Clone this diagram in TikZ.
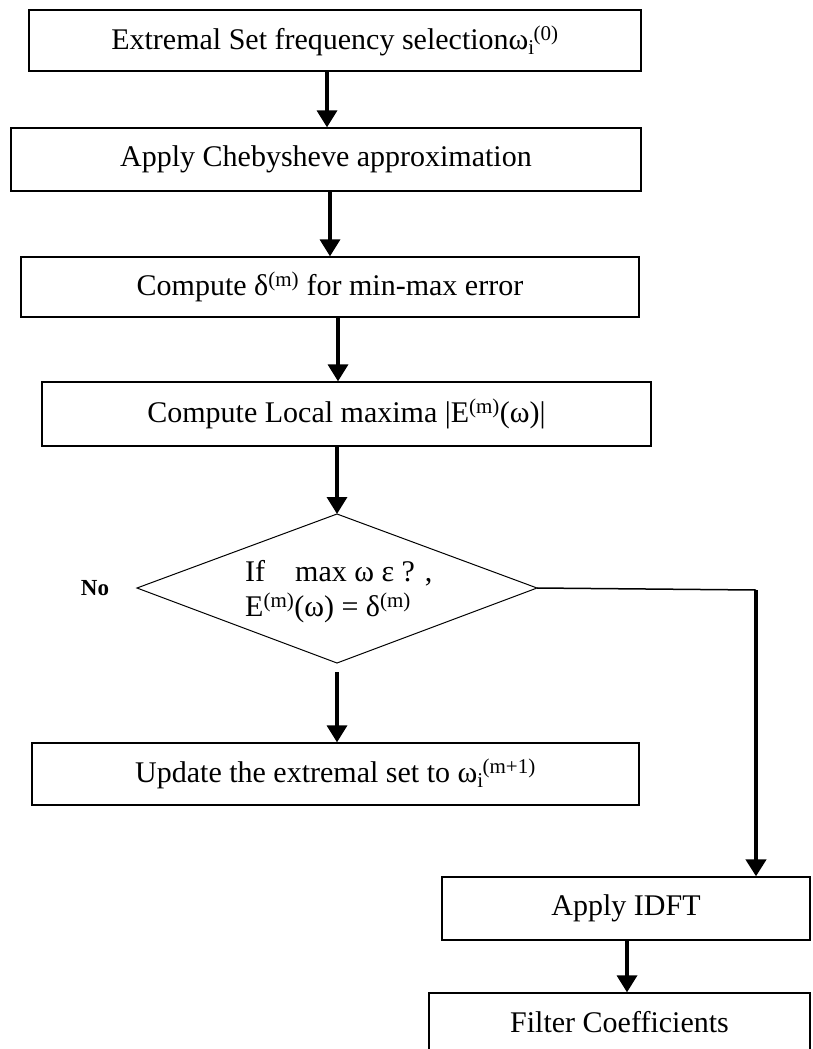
\documentclass[tikz,border=0pt]{standalone}
\usepackage{fontspec}
\setmainfont{Liberation Serif}
\usetikzlibrary{arrows.meta}
\newcommand\boxfont{\fontsize{30}{35}\selectfont}
\newcommand\omsub[2]{ω\textsubscript{#1}\kern-1pt\textsuperscript{#2}}
\begin{document}
\begin{tikzpicture}[x=1pt,y=-1pt,
  box/.style={draw,line width=1.3pt,inner sep=0pt,font=\boxfont},
  arr/.style={line width=3.5pt,-{Triangle[width=20pt,length=17pt]}},
  thinline/.style={line width=1.5pt},
  decision/.style={line width=1pt,line join=miter}]
\useasboundingbox (0,0) rectangle (812,1049);
\clip (0,0) rectangle (812,1049);
% process boxes
\node[box,minimum width=612pt,minimum height=61pt] (b1) at (335,40.5)
  {Extremal Set frequency selection\omsub{i}{(0)}};
\node[box,minimum width=630pt,minimum height=63pt] (b2) at (326,159.5)
  {Apply Chebysheve approximation};
\node[box,minimum width=618pt,minimum height=60pt] (b3) at (330,287)
  {Compute δ\textsuperscript{(m)} for min-max error};
\node[box,minimum width=609pt,minimum height=64pt] (b4) at (346.5,414)
  {Compute Local maxima |E\textsuperscript{(m)}(ω)|};
\node[box,minimum width=607pt,minimum height=62pt] (b5) at (335.5,774)
  {Update the extremal set to \omsub{i}{(m+1)}};
\node[box,minimum width=368pt,minimum height=63pt] (b6) at (626,908.5)
  {Apply IDFT};
\node[box,minimum width=381pt,minimum height=58pt] (b7) at (619.5,1022)
  {Filter Coefficients};
% decision diamond
\coordinate (dtop) at (337,514);
\coordinate (dleft) at (137,588);
\coordinate (dright) at (537,588);
\coordinate (dbot) at (337,663);
\draw[decision] (dtop) -- (dright) -- (dbot) -- (dleft) -- cycle;
\node[font=\boxfont,align=left,anchor=west,inner sep=0pt] (dtext) at (245,592)
  {If\quad max ω ε ? ,\\E\textsuperscript{(m)}(ω) = δ\textsuperscript{(m)}};
\node[font=\bfseries\fontsize{23}{26}\selectfont,inner sep=0pt] (no) at (95,588) {No};
% connectors
\draw[arr] ([xshift=-8pt]b1.south) -- ([xshift=-8pt]b1.south |- b2.north);
\draw[arr] ([xshift=4pt]b2.south) -- ([xshift=4pt]b2.south |- b3.north);
\draw[arr] ([xshift=8pt]b3.south) -- ([xshift=8pt]b3.south |- b4.north);
\draw[arr] (b4.south -| dtop) -- (dtop);
\draw[arr] ([yshift=-9pt]dbot) -- (dbot |- b5.north);
\coordinate (turn) at (756,590);
\draw[thinline] (dright) -- (turn);
\draw[line width=4.5pt,-{Triangle[width=20pt,length=17pt]}] (turn) -- (turn |- b6.north);
\draw[arr] ([xshift=1pt]b6.south) -- ([xshift=1pt]b6.south |- b7.north);
\end{tikzpicture}
\end{document}
